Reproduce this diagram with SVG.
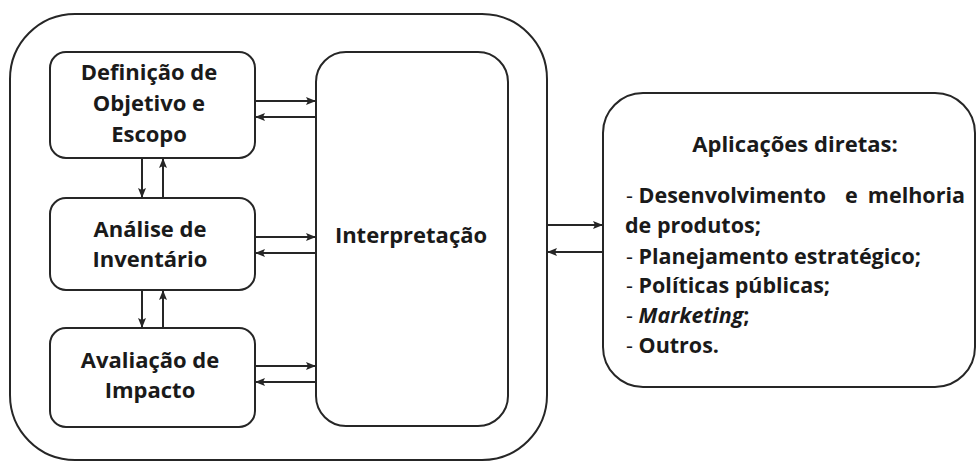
<svg xmlns="http://www.w3.org/2000/svg" width="978" height="463" viewBox="0 0 978 463">
<defs>
<style>
.box{fill:#fff;stroke:#262626;stroke-width:2}
.frame{fill:none;stroke:#262626;stroke-width:2}
.lbl{font-family:"Open Sans","Liberation Sans",sans-serif;font-weight:bold;font-size:22px;fill:#1a1a1a;text-anchor:middle}
.lst{font-family:"Open Sans","Liberation Sans",sans-serif;font-weight:bold;font-size:21.5px;fill:#1a1a1a}
.d{font-weight:normal}
.con{stroke:#262626;stroke-width:2;fill:none;marker-end:url(#ah)}
</style>
<marker id="ah" viewBox="0 0 10 10" refX="10" refY="5" markerWidth="10" markerHeight="10" markerUnits="userSpaceOnUse" orient="auto">
<path d="M0,1 L10,5 L0,9 L2,5 z" fill="#262626"/>
</marker>
</defs>
<rect width="978" height="463" fill="#fff"/>
<g id="frame-acv">
<rect class="frame" x="10" y="14" width="537" height="446" rx="65" ry="65"/>
</g>
<g id="node-definicao">
<rect class="box" x="50" y="52" width="205" height="106" rx="16"/>
<text class="lbl" x="149" y="80">Definição de</text>
<text class="lbl" x="149" y="111">Objetivo e</text>
<text class="lbl" x="149" y="142">Escopo</text>
</g>
<g id="node-analise">
<rect class="box" x="50" y="198" width="205" height="92" rx="16"/>
<text class="lbl" x="150" y="237">Análise de</text>
<text class="lbl" x="150" y="267">Inventário</text>
</g>
<g id="node-avaliacao">
<rect class="box" x="50" y="328" width="205" height="99" rx="16"/>
<text class="lbl" x="150" y="368">Avaliação de</text>
<text class="lbl" x="150" y="398">Impacto</text>
</g>
<g id="node-interpretacao">
<rect class="box" x="316" y="52" width="192" height="374" rx="30"/>
<text class="lbl" x="411" y="243">Interpretação</text>
</g>
<g id="node-aplicacoes">
<rect class="box" x="603" y="93" width="372" height="294" rx="40"/>
<text class="lbl" x="795" y="152">Aplicações diretas:</text>
<text class="lst" y="203"><tspan x="626" class="d">- </tspan><tspan>Desenvolvimento</tspan><tspan x="845">e</tspan><tspan x="965" text-anchor="end">melhoria</tspan></text>
<text class="lst" x="625" y="233">de produtos;</text>
<text class="lst" x="626" y="264"><tspan class="d">- </tspan>Planejamento estratégico;</text>
<text class="lst" x="626" y="293"><tspan class="d">- </tspan>Políticas públicas;</text>
<text class="lst" x="626" y="323"><tspan class="d">- </tspan><tspan font-style="italic">Marketing</tspan>;</text>
<text class="lst" x="626" y="353"><tspan class="d">- </tspan>Outros.</text>
</g>
<g id="connectors">
<line class="con" x1="142" y1="158" x2="142" y2="198"/>
<line class="con" x1="163" y1="198" x2="163" y2="158"/>
<line class="con" x1="142" y1="290" x2="142" y2="328"/>
<line class="con" x1="163" y1="328" x2="163" y2="290"/>
<line class="con" x1="255" y1="101" x2="316" y2="101"/>
<line class="con" x1="316" y1="117" x2="255" y2="117"/>
<line class="con" x1="255" y1="237" x2="316" y2="237"/>
<line class="con" x1="316" y1="253" x2="255" y2="253"/>
<line class="con" x1="255" y1="366" x2="316" y2="366"/>
<line class="con" x1="316" y1="382" x2="255" y2="382"/>
<line class="con" x1="547" y1="225" x2="603" y2="225"/>
<line class="con" x1="603" y1="252" x2="547" y2="252"/>
</g>
</svg>
